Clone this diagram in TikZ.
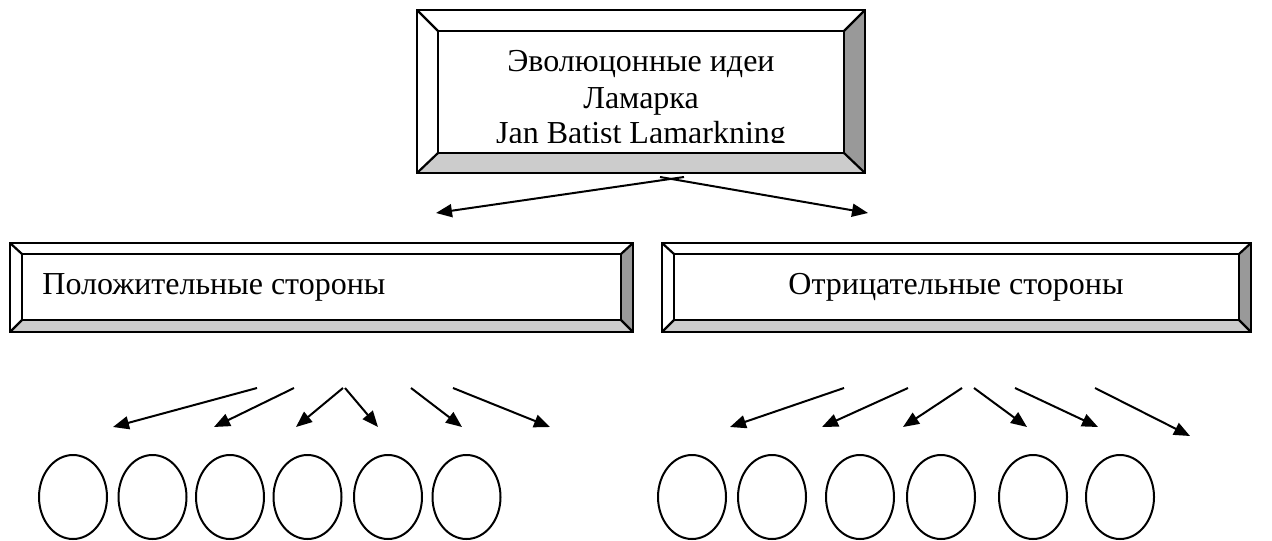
\documentclass[tikz,border=0pt]{standalone}
\usepackage{fontspec}
\setmainfont{Liberation Serif}
\usetikzlibrary{arrows.meta,shapes.geometric}

\definecolor{bevellight}{HTML}{CCCCCC}
\definecolor{beveldark}{HTML}{999999}

% bevelled frame: outer corners (#1,#2)-(#3,#4), inner corners (#5,#6)-(#7,#8)
\newcommand{\bevelframe}[8]{%
  \fill[white] (#1,#2) rectangle (#3,#4);
  \fill[bevellight] (#1,#4) -- (#3,#4) -- (#7,#8) -- (#5,#8) -- cycle;
  \fill[beveldark] (#3,#2) -- (#3,#4) -- (#7,#8) -- (#7,#6) -- cycle;
  \draw[frameline] (#1,#2) rectangle (#3,#4);
  \draw[frameline] (#5,#6) rectangle (#7,#8);
  \draw[frameline] (#1,#2) -- (#5,#6) (#3,#2) -- (#7,#6)
                   (#1,#4) -- (#5,#8) (#3,#4) -- (#7,#8);
}

\begin{document}
\begin{tikzpicture}[x=0.5pt,y=-0.5pt,
  frameline/.style={line width=1.1pt,line join=miter},
  label/.style={inner sep=0pt,font=\fontsize{16}{18}\selectfont},
  link/.style={line width=1pt,-{Triangle[length=8pt,width=6.5pt]}},
  leaf/.style={draw,ellipse,line width=1pt,inner sep=0pt,
               minimum width=34pt,minimum height=42pt}]
\useasboundingbox (0,0) rectangle (1272,540);

% title frame
\bevelframe{417}{10}{865}{173}{438}{31}{844}{153}
\begin{scope}
  \clip (438,31) rectangle (844,142);
  \node[label,anchor=base] (t1) at (641,72) {Эволюцонные идеи};
  \node[label,anchor=base] (t2) at (641,108) {Ламарка};
  \node[label,anchor=base] (t3) at (641,143) {Jan Batist Lamarkning};
\end{scope}

% two category frames
\bevelframe{10}{243}{633}{332}{22}{254}{621}{320}
\node[label,anchor=base west] (pos) at (42,294) {Положительные стороны};
\bevelframe{662}{243}{1251}{332}{674}{254}{1239}{320}
\node[label,anchor=base] (neg) at (956,294) {Отрицательные стороны};

% arrows from the title
\coordinate (sL) at (684,177);
\coordinate (sR) at (660,177);
\coordinate (eL) at (436,213);
\coordinate (eR) at (868,213);
\draw[link] (sL) -- (eL);
\draw[link] (sR) -- (eR);

% arrow starts and ends, left group
\foreach \i/\a/\b in {1/257/113,2/294/214,3/343/296,4/345/378,5/411/462,6/453/550}{
  \coordinate (pa\i) at (\a,388);
  \coordinate (pb\i) at (\b,427);
}
% arrow starts and ends, right group
\foreach \i/\a/\b/\c in {1/844/730/427,2/908/822/427,3/962/903/427,4/974/1027/427,5/1015/1098/427,6/1095/1190/436}{
  \coordinate (na\i) at (\a,388);
  \coordinate (nb\i) at (\b,\c);
}
\foreach \i in {1,...,6}{
  \draw[link] (pa\i) -- (pb\i);
  \draw[link] (na\i) -- (nb\i);
}

% empty ovals
\foreach \i/\x in {1/73,2/152.5,3/230,4/307.5,5/388,6/466.5}{
  \node[leaf] (p\i) at (\x,497) {};
}
\foreach \i/\x in {1/692,2/772,3/860,4/941,5/1033,6/1120}{
  \node[leaf] (n\i) at (\x,497) {};
}
\end{tikzpicture}
\end{document}
